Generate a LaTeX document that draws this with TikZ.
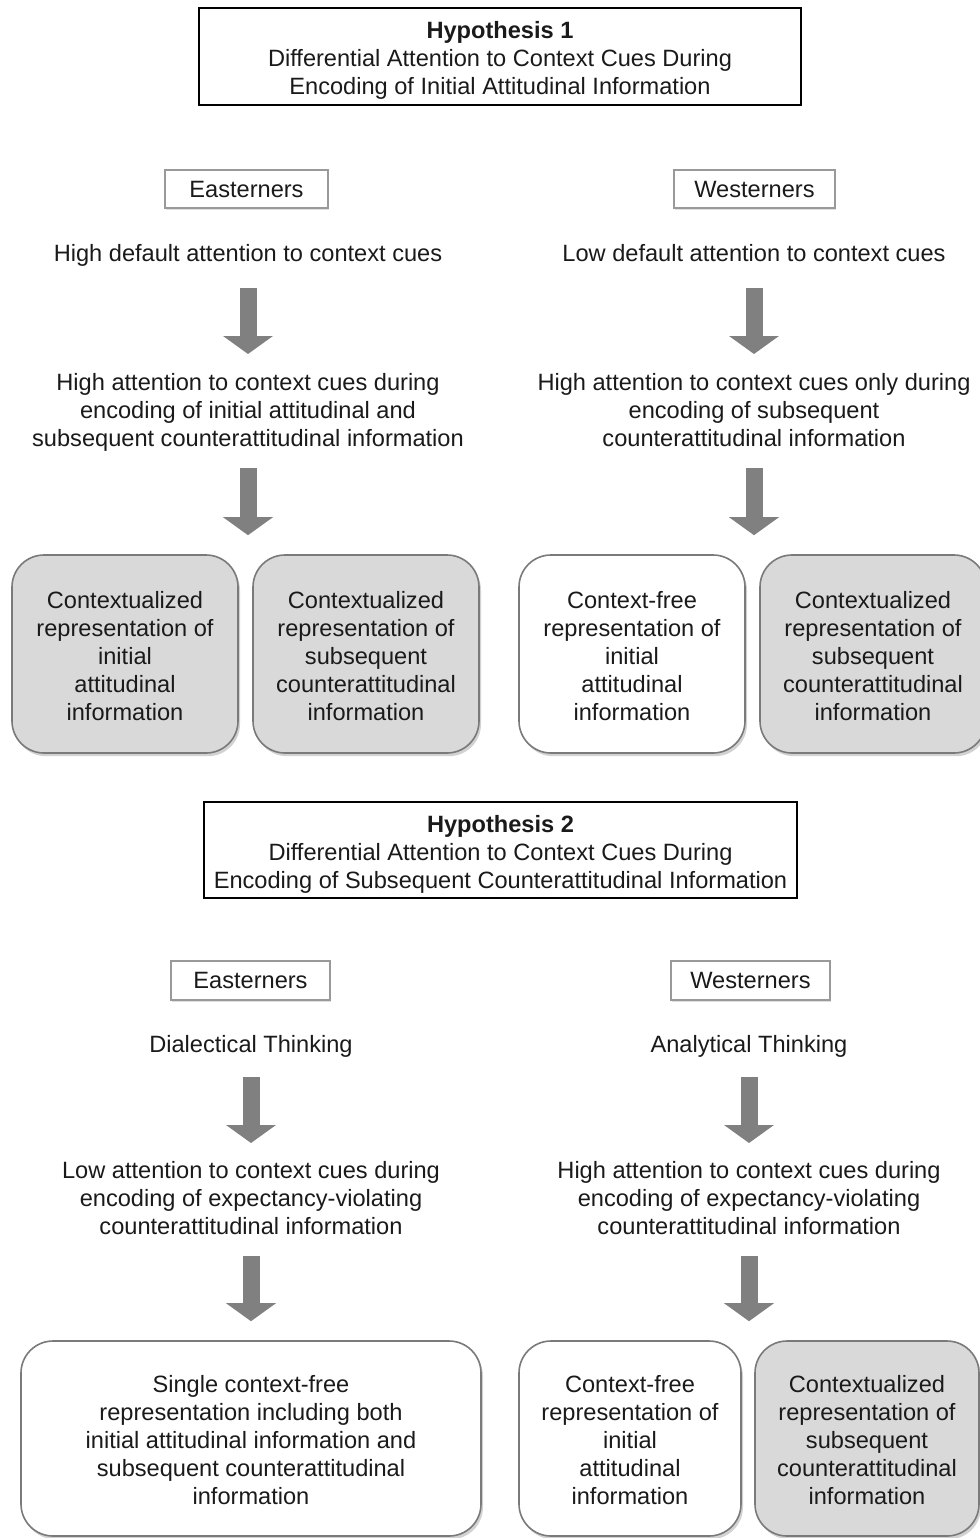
\documentclass[tikz,border=0pt]{standalone}
\usepackage{fontspec}
\setmainfont{Liberation Sans}
\usetikzlibrary{arrows.meta,shadows,calc}
\definecolor{boxgray}{HTML}{D9D9D9}
\definecolor{edgegray}{HTML}{7A7A7A}
\definecolor{arrowgray}{HTML}{808080}
\definecolor{txt}{HTML}{1A1A1A}
\tikzset{
  txtfont/.style={font=\fontsize{11.8pt}{14pt}\selectfont, text=txt},
  plain/.style={txtfont, align=center, inner sep=0pt, yshift=-1pt},
  plainnd/.style={txtfont, align=center, inner sep=0pt},
  oneline/.style={txtfont, align=center, inner sep=0pt, text depth=0pt},
  hypbox/.style={draw=black, line width=1pt, fill=white, inner sep=0pt},
  hyptext/.style={txtfont, align=center, inner sep=0pt, yshift=-2pt},
  groupbox/.style={txtfont, draw=gray!80, line width=0.8pt, fill=white, inner sep=0pt,
    drop shadow={shadow xshift=0.6pt, shadow yshift=-0.8pt, opacity=0.25}},
  repbox/.style={draw=edgegray, line width=0.8pt, rounded corners=16pt, inner sep=0pt,
    drop shadow={shadow xshift=1pt, shadow yshift=-1.6pt, opacity=0.35}},
  reptext/.style={txtfont, align=center, inner sep=0pt, yshift=-1pt},
  grayrep/.style={repbox, fill=boxgray},
  whiterep/.style={repbox, fill=white},
  bigarrow/.style={draw=arrowgray, line width=8.5pt, -{Triangle[length=9pt,width=24.5pt]}},
}
\begin{document}
\begin{tikzpicture}[x=0.5pt,y=-0.5pt]
\useasboundingbox[fill=white] (0,0) rectangle (980,1538);

% Hypothesis 1
\node[hypbox, minimum width=301pt, minimum height=48.5pt,
  label={[hyptext]center:{\textbf{Hypothesis 1}\\Differential Attention to Context Cues During\\Encoding of Initial Attitudinal Information}}] (h1) at (500,56.5) {};

\node[groupbox, minimum width=81.5pt, minimum height=19pt] (east1) at (246.5,189) {Easterners};
\node[groupbox, minimum width=80.5pt, minimum height=19pt] (west1) at (754.5,189) {Westerners};

\node[oneline] (eh1) at (248,253) {High default attention to context cues};
\node[oneline] (wh1) at (754,253) {Low default attention to context cues};

\node[plain] (eh2) at (248,410) {High attention to context cues during\\encoding of initial attitudinal and\\subsequent counterattitudinal information};
\node[plainnd] (wh2) at (754,410) {High attention to context cues only during\\encoding of subsequent\\counterattitudinal information};

\node[grayrep, minimum width=113pt, minimum height=99pt,
  label={[reptext]center:{Contextualized\\representation of\\initial\\attitudinal\\information}}] (L1) at (125,654) {};
\node[grayrep, minimum width=113pt, minimum height=99pt,
  label={[reptext]center:{Contextualized\\representation of\\subsequent\\counterattitudinal\\information}}] (L2) at (366,654) {};
\node[whiterep, minimum width=113pt, minimum height=99pt,
  label={[reptext]center:{Context-free\\representation of\\initial\\attitudinal\\information}}] (R1) at (632,654) {};
\node[grayrep, minimum width=113pt, minimum height=99pt,
  label={[reptext]center:{Contextualized\\representation of\\subsequent\\counterattitudinal\\information}}] (R2) at (873,654) {};

\draw[bigarrow, shorten <=17.5pt, shorten >=29pt] (eh1.center) -- (eh2.center);
\draw[bigarrow, shorten <=17.5pt, shorten >=28pt] (wh1.center) -- (wh2.center);
\draw[bigarrow, shorten <=28pt, shorten >=9.5pt] (eh2.center) -- (eh2.center |- L1.north);
\draw[bigarrow, shorten <=29pt, shorten >=9.5pt] (wh2.center) -- (wh2.center |- R1.north);

% Hypothesis 2
\node[hypbox, minimum width=296.5pt, minimum height=48pt,
  label={[hyptext]center:{\textbf{Hypothesis 2}\\Differential Attention to Context Cues During\\Encoding of Subsequent Counterattitudinal Information}}] (h2) at (500.5,850) {};

\node[groupbox, minimum width=79.5pt, minimum height=19.5pt] (east2) at (250.5,980.5) {Easterners};
\node[groupbox, minimum width=79.5pt, minimum height=19.5pt] (west2) at (750.5,980.5) {Westerners};

\node[oneline] (ed) at (251,1044) {Dialectical Thinking};
\node[oneline] (wd) at (749,1044) {Analytical Thinking};

\node[plainnd] (el) at (251,1198) {Low attention to context cues during\\encoding of expectancy-violating\\counterattitudinal information};
\node[plainnd] (wl) at (749,1198) {High attention to context cues during\\encoding of expectancy-violating\\counterattitudinal information};

\node[whiterep, minimum width=230pt, minimum height=97.5pt,
  label={[reptext]center:{Single context-free\\representation including both\\initial attitudinal information and\\subsequent counterattitudinal\\information}}] (Lb) at (251,1438.5) {};
\node[whiterep, minimum width=111pt, minimum height=97.5pt,
  label={[reptext]center:{Context-free\\representation of\\initial\\attitudinal\\information}}] (Rb1) at (630,1438.5) {};
\node[grayrep, minimum width=112pt, minimum height=97.5pt,
  label={[reptext]center:{Contextualized\\representation of\\subsequent\\counterattitudinal\\information}}] (Rb2) at (867,1438.5) {};

\draw[bigarrow, shorten <=16.5pt, shorten >=27.5pt] (ed.center) -- (el.center);
\draw[bigarrow, shorten <=16.5pt, shorten >=27.5pt] (wd.center) -- (wl.center);
\draw[bigarrow, shorten <=29pt, shorten >=9.5pt] (el.center) -- (el.center |- Lb.north);
\draw[bigarrow, shorten <=29pt, shorten >=9.5pt] (wl.center) -- (wl.center |- Rb1.north);
\end{tikzpicture}
\end{document}
